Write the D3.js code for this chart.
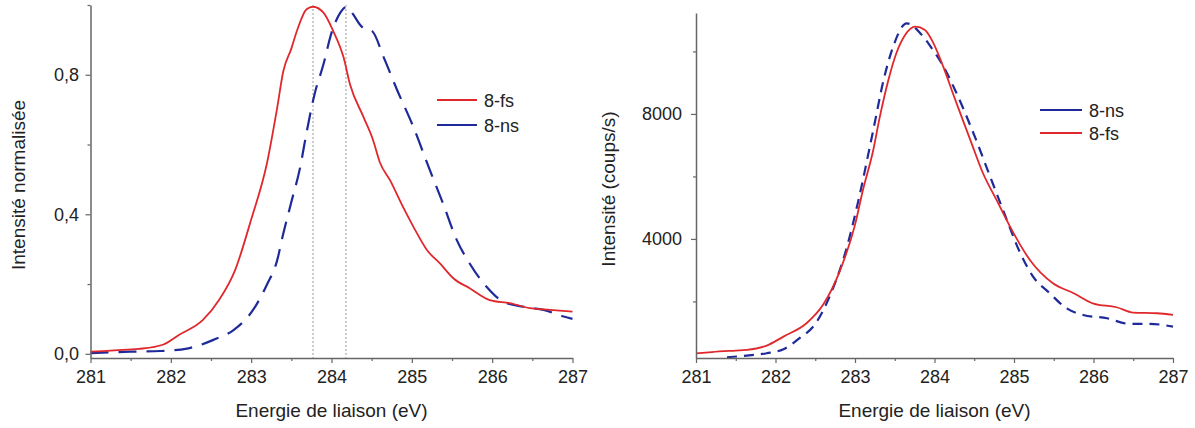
<!DOCTYPE html>
<html><head><meta charset="utf-8">
<script src="https://cdn.jsdelivr.net/npm/d3@7"></script>
<style>
body{margin:0;background:#fff}
svg{display:block}
text{font-family:"Liberation Sans",Arial,sans-serif;fill:#222}
</style>
</head><body>
<svg id="c" width="1195" height="428"></svg>
<script>
// ---------- DATA ----------
const xTicks = [281, 282, 283, 284, 285, 286, 287];
const xMinorTicks = [281.5, 282.5, 283.5, 284.5, 285.5, 286.5];
const xTitle = "Energie de liaison (eV)";

// Left panel: normalised intensity
const leftYTicks = [0, 0.4, 0.8];
const leftYTickLabels = ["0,0", "0,4", "0,8"];
const leftYMinorTicks = [0.2, 0.6, 1.0];
const leftYTitle = "Intensité normalisée";
const leftPeakMarkers = [283.77, 284.18];

const leftEnergyFs = [281.0, 281.3, 281.6, 281.9, 282.1, 282.4, 282.6, 282.8, 283.0, 283.2, 283.32, 283.4, 283.5, 283.57, 283.69, 283.77, 283.9, 284.02, 284.15, 284.23, 284.4, 284.52, 284.6, 284.73, 284.89, 285.02, 285.19, 285.35, 285.52, 285.72, 285.97, 286.22, 286.47, 286.72, 287.0];
const leftIntensityFs = [0.006, 0.01, 0.014, 0.026, 0.054, 0.097, 0.154, 0.24, 0.385, 0.55, 0.70, 0.81, 0.875, 0.926, 0.988, 0.995, 0.978, 0.926, 0.85, 0.773, 0.678, 0.611, 0.55, 0.497, 0.421, 0.364, 0.297, 0.259, 0.216, 0.188, 0.154, 0.145, 0.131, 0.126, 0.121];

const leftEnergyNs = [281.0, 281.5, 281.87, 282.2, 282.53, 282.78, 283.03, 283.2, 283.32, 283.4, 283.5, 283.61, 283.69, 283.79, 283.9, 284.0, 284.11, 284.19, 284.27, 284.35, 284.42, 284.5, 284.65, 284.81, 285.02, 285.21, 285.39, 285.56, 285.72, 285.93, 286.14, 286.39, 286.64, 286.89, 287.0];
const leftIntensityNs = [0.002, 0.006, 0.008, 0.015, 0.04, 0.068, 0.128, 0.20, 0.265, 0.345, 0.435, 0.535, 0.635, 0.745, 0.83, 0.92, 0.978, 0.995, 0.973, 0.945, 0.93, 0.926, 0.85, 0.76, 0.65, 0.535, 0.43, 0.326, 0.259, 0.192, 0.149, 0.135, 0.126, 0.107, 0.10];

// Right panel: counts per second
const rightYTicks = [4000, 8000];
const rightYTickLabels = ["4000", "8000"];
const rightYMinorTicks = [2000, 6000, 10000];
const rightYTitle = "Intensité (coups/s)";

const rightEnergyFs = [281.0, 281.2, 281.5, 281.64, 281.89, 282.1, 282.39, 282.6, 282.81, 283.0, 283.1, 283.23, 283.31, 283.42, 283.52, 283.63, 283.76, 283.88, 283.98, 284.11, 284.24, 284.32, 284.45, 284.61, 284.78, 284.95, 285.2, 285.49, 285.75, 286.0, 286.29, 286.5, 286.8, 287.0];
const rightCountsFs = [340, 380, 427, 448, 587, 875, 1302, 1900, 2980, 4450, 5568, 6848, 7880, 9088, 9942, 10528, 10794, 10688, 10300, 9514, 8600, 8050, 7170, 6102, 5248, 4394, 3328, 2582, 2262, 1930, 1814, 1642, 1622, 1568];

const rightEnergyNs = [281.39, 281.64, 281.89, 282.1, 282.3, 282.5, 282.68, 282.9, 283.04, 283.23, 283.36, 283.48, 283.65, 283.84, 283.98, 284.09, 284.26, 284.49, 284.7, 284.87, 285.08, 285.24, 285.45, 285.66, 285.87, 286.17, 286.46, 286.71, 287.0];
const rightCountsNs = [214, 267, 342, 470, 820, 1280, 2154, 3754, 5200, 7488, 9088, 10154, 10901, 10530, 10048, 9620, 8760, 7382, 5994, 4875, 3542, 2794, 2262, 1782, 1568, 1462, 1280, 1280, 1194];

// ---------- DRAWING ----------
const RED = "#e0282c", BLUE = "#1f2a9a", AXIS = "#666";
const svg = d3.select("#c");

function panel(cfg) {
  const g = svg.append("g");
  const x = d3.scaleLinear().domain([281, 287]).range(cfg.xRange);
  const y = d3.scaleLinear().domain(cfg.yDomain).range(cfg.yRange);
  const yb = cfg.yRange[0];

  // peak markers
  (cfg.markers || []).forEach(m => {
    g.append("line").attr("x1", x(m)).attr("x2", x(m))
      .attr("y1", cfg.yRange[1]).attr("y2", yb)
      .attr("stroke", "#9a9a9a").attr("stroke-width", 1).attr("stroke-dasharray", "2,2");
  });

  // series
  cfg.series.forEach(s => {
    const pts = s.e.map((e, i) => [e, s.v[i]]);
    g.append("path").datum(pts)
      .attr("fill", "none").attr("stroke", s.color).attr("stroke-width", s.width)
      .attr("stroke-dasharray", s.dash || null)
      .attr("d", d3.line().x(d => x(d[0])).y(d => y(d[1])).curve(d3.curveMonotoneX));
  });

  // x axis
  const gx = g.append("g").attr("transform", `translate(0,${yb})`);
  gx.call(d3.axisBottom(x).tickValues(xTicks).tickFormat(d3.format("d")).tickSize(5).tickSizeOuter(0).tickPadding(7));
  const gxm = g.append("g").attr("transform", `translate(0,${yb})`);
  gxm.call(d3.axisBottom(x).tickValues(xMinorTicks).tickFormat("").tickSize(3).tickSizeOuter(0));
  gxm.select(".domain").remove();

  // y axis
  const gy = g.append("g").attr("transform", `translate(${cfg.xRange[0]},0)`);
  gy.call(d3.axisLeft(y).tickValues(cfg.yTicks).tickFormat((d, i) => cfg.yLabels[i]).tickSize(5).tickSizeOuter(0).tickPadding(cfg.yPad));
  const gym = g.append("g").attr("transform", `translate(${cfg.xRange[0]},0)`);
  gym.call(d3.axisLeft(y).tickValues(cfg.yMinor).tickFormat("").tickSize(3).tickSizeOuter(0));
  gym.select(".domain").remove();

  [gx, gxm, gy, gym].forEach(a => {
    a.selectAll(".domain").attr("stroke", AXIS).attr("stroke-width", 1.5);
    a.selectAll(".tick line").attr("stroke", AXIS).attr("stroke-width", 1.2);
    a.selectAll(".tick text").attr("font-size", 18).attr("fill", "#222")
      .style("font-family", '"Liberation Sans", Arial, sans-serif');
  });

  // titles
  g.append("text").attr("x", (cfg.xRange[0] + cfg.xRange[1]) / 2).attr("y", 417)
    .attr("text-anchor", "middle").attr("font-size", 19).text(xTitle);
  g.append("text").attr("transform", `translate(${cfg.yTitleX},${cfg.yTitleY}) rotate(-90)`)
    .attr("text-anchor", "middle").attr("font-size", 19).text(cfg.yTitle);

  // legend
  cfg.legend.forEach((l, i) => {
    const ly = cfg.legendY + i * cfg.legendStep;
    g.append("line").attr("x1", cfg.legendX).attr("x2", cfg.legendX + cfg.legendLen)
      .attr("y1", ly).attr("y2", ly).attr("stroke", l.color).attr("stroke-width", 2);
    g.append("text").attr("x", cfg.legendX + cfg.legendLen + 7).attr("y", ly + 6.5)
      .attr("font-size", 18).text(l.label);
  });
}

panel({
  xRange: [90.5, 572.5], yDomain: [-0.012, 1.0], yRange: [358, 5],
  yTicks: leftYTicks, yLabels: leftYTickLabels, yMinor: leftYMinorTicks, yPad: 6.5,
  yTitle: leftYTitle, yTitleX: 25, yTitleY: 185,
  markers: leftPeakMarkers,
  series: [
    {e: leftEnergyNs, v: leftIntensityNs, color: BLUE, width: 2.2, dash: "18,10"},
    {e: leftEnergyFs, v: leftIntensityFs, color: RED, width: 1.8}
  ],
  legend: [{label: "8-fs", color: RED}, {label: "8-ns", color: BLUE}],
  legendX: 437, legendY: 100, legendStep: 25, legendLen: 40
});

panel({
  xRange: [696, 1173], yDomain: [190, 11230], yRange: [358, 13],
  yTicks: rightYTicks, yLabels: rightYTickLabels, yMinor: rightYMinorTicks, yPad: 9,
  yTitle: rightYTitle, yTitleX: 615, yTitleY: 189,
  series: [
    {e: rightEnergyNs, v: rightCountsNs, color: BLUE, width: 2.2, dash: "10,7"},
    {e: rightEnergyFs, v: rightCountsFs, color: RED, width: 1.8}
  ],
  legend: [{label: "8-ns", color: BLUE}, {label: "8-fs", color: RED}],
  legendX: 1040, legendY: 110, legendStep: 23, legendLen: 42
});
</script>
</body></html>
